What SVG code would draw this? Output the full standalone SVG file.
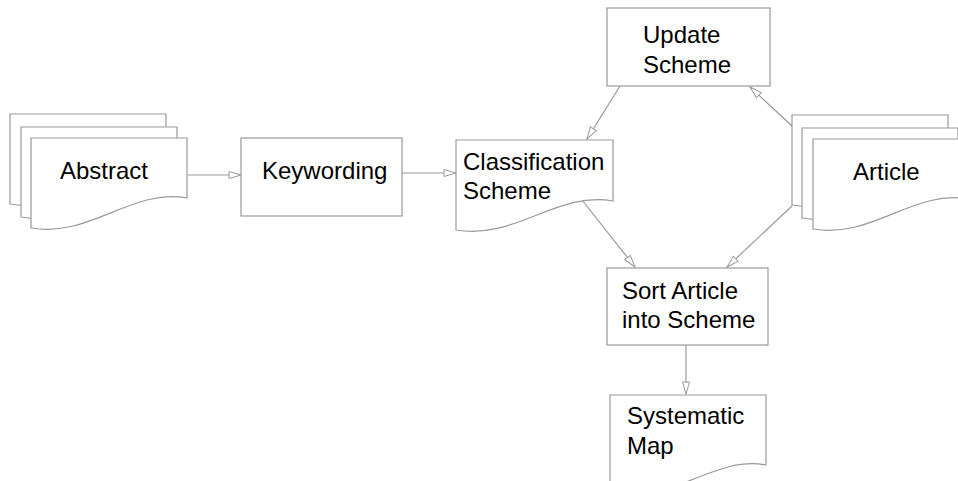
<svg xmlns="http://www.w3.org/2000/svg" width="958" height="481" viewBox="0 0 958 481">
<style>
.sh{fill:#fff;stroke:#999;stroke-width:1.2}
.t{font-family:"Liberation Sans",Arial,sans-serif;font-size:24px;fill:#000}
.c{fill:none;stroke:#999;stroke-width:1.2}
</style>
<defs>
<marker id="ah" viewBox="0 0 14 9" refX="13" refY="4.5" markerWidth="14" markerHeight="9" orient="auto" markerUnits="userSpaceOnUse">
<path d="M1,1 L13,4.5 L1,8 Z" fill="#fff" stroke="#999" stroke-width="1"/>
</marker>
<path id="doc" d="M0,0 H156 V60 C100,50 60,100 0,90 Z"/>
</defs>
<rect width="958" height="481" fill="#fff"/>
<g id="connectors">
<line class="c" x1="188" y1="175" x2="241" y2="175" marker-end="url(#ah)"/>
<line class="c" x1="402" y1="173" x2="456" y2="173" marker-end="url(#ah)"/>
<line class="c" x1="620" y1="86" x2="587" y2="139" marker-end="url(#ah)"/>
<line class="c" x1="792" y1="126" x2="750" y2="87" marker-end="url(#ah)"/>
<line class="c" x1="582" y1="200" x2="635" y2="267" marker-end="url(#ah)"/>
<line class="c" x1="792" y1="206" x2="727" y2="267" marker-end="url(#ah)"/>
<line class="c" x1="686" y1="345" x2="686" y2="394" marker-end="url(#ah)"/>
</g>
<g id="abstract">
<use href="#doc" class="sh" x="10" y="114"/>
<use href="#doc" class="sh" x="21" y="127"/>
<use href="#doc" class="sh" x="31" y="138"/>
<text class="t" x="60" y="179">Abstract</text>
</g>
<g id="keywording">
<rect class="sh" x="241" y="138" width="161" height="78"/>
<text class="t" x="262" y="179">Keywording</text>
</g>
<g id="classification">
<path class="sh" d="M456,140 H613 V201 C556,191 516,240 456,230 Z"/>
<text class="t" x="463" y="170">Classification</text>
<text class="t" x="463" y="199">Scheme</text>
</g>
<g id="update">
<rect class="sh" x="607" y="8" width="163" height="78"/>
<text class="t" x="643" y="43">Update</text>
<text class="t" x="643" y="73">Scheme</text>
</g>
<g id="article">
<use href="#doc" class="sh" x="792" y="115"/>
<use href="#doc" class="sh" x="802" y="128"/>
<use href="#doc" class="sh" x="813" y="139"/>
<text class="t" x="853" y="180">Article</text>
</g>
<g id="sort">
<rect class="sh" x="607" y="268" width="161" height="77"/>
<text class="t" x="622" y="299">Sort Article</text>
<text class="t" x="622" y="328">into Scheme</text>
</g>
<g id="systematic">
<path class="sh" d="M610,395 H766 V465 C716,455 666,505 610,498 Z"/>
<text class="t" x="627" y="424">Systematic</text>
<text class="t" x="627" y="454">Map</text>
</g>
</svg>
